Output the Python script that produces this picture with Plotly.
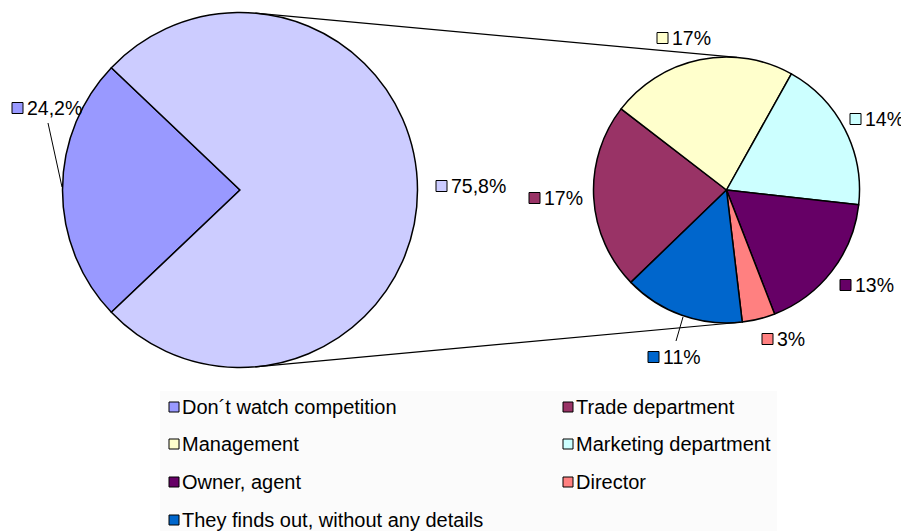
import math
import plotly.graph_objects as go

# ---------------- data ----------------
main_labels = ["Don´t watch competition", "Other"]
main_values = [24.2, 75.8]
main_colors = ["#9999FF", "#CCCCFF"]

sub_labels = ["Trade department", "Management", "Marketing department",
              "Owner, agent", "Director", "They finds out, without any details"]
sub_values = [17, 17, 14, 13, 3, 11]
sub_colors = ["#993366", "#FFFFCC", "#CCFFFF", "#660066", "#FF8080", "#0066CC"]

main_text = [f"{v:.1f}".replace(".", ",") + "%" for v in main_values]
sub_text = [f"{v}%" for v in sub_values]

# ---------------- layout geometry (window pixels) ----------------
WIN_W, WIN_H = 909, 531
OFF = 8                      # default page body margin
W, H = WIN_W - OFF, WIN_H - OFF
BIG_C, BIG_R = (240, 190), 177.5
SMALL_C, SMALL_R = (726.5, 190), 133
FONT = "Liberation Sans, Arial, sans-serif"
FS = 19.5


def px(x):
    return (x - OFF) / W


def py(y):
    return 1 - (y - OFF) / H


def dom(c, r):
    return dict(x=[px(c[0] - r), px(c[0] + r)], y=[py(c[1] + r), py(c[1] - r)])


def on_circle(c, r, deg):
    a = math.radians(deg)
    return (c[0] + r * math.sin(a), c[1] - r * math.cos(a))


# first slice of the main pie is centred at 9 o'clock
main_rot = 270 - main_values[0] / sum(main_values) * 360 / 2
sub_rot = 226

fig = go.Figure()
fig.add_trace(go.Pie(
    labels=main_labels, values=main_values, sort=False, direction="clockwise",
    rotation=main_rot, textinfo="none", showlegend=False,
    marker=dict(colors=main_colors, line=dict(color="black", width=1.5)),
    domain=dom(BIG_C, BIG_R)))
fig.add_trace(go.Pie(
    labels=sub_labels, values=sub_values, sort=False, direction="clockwise",
    rotation=sub_rot, textinfo="none", showlegend=False,
    marker=dict(colors=sub_colors, line=dict(color="black", width=1.5)),
    domain=dom(SMALL_C, SMALL_R)))

shapes = []
annotations = []

# legend background
shapes.append(dict(type="rect", xref="paper", yref="paper", layer="below",
                   x0=px(160), x1=px(777), y0=py(531), y1=py(391),
                   fillcolor="#FBFBFB", line=dict(width=0)))

# connector lines between the pies
for a_big, a_small in [(5, 4.5), (175, 174)]:
    p1 = on_circle(BIG_C, BIG_R, a_big)
    p2 = on_circle(SMALL_C, SMALL_R, a_small)
    shapes.append(dict(type="line", xref="paper", yref="paper",
                       x0=px(p1[0]), y0=py(p1[1]), x1=px(p2[0]), y1=py(p2[1]),
                       line=dict(color="black", width=1.2)))

# leader lines
for (x0, y0, x1, y1) in [(48, 123, 62, 187), (676, 341, 683, 317)]:
    shapes.append(dict(type="line", xref="paper", yref="paper",
                       x0=px(x0), y0=py(y0), x1=px(x1), y1=py(y1),
                       line=dict(color="black", width=1)))

# data labels: (square left x, centre y)
main_label_pos = [(12, 108), (436, 186)]
sub_label_pos = [(529, 198), (657, 38), (850, 119), (840, 285), (762, 339), (648, 357)]
SQ = 11


def add_label(x, y, color, text, sq=SQ, gap=3, size=FS):
    shapes.append(dict(type="rect", xref="paper", yref="paper",
                       x0=px(x), x1=px(x + sq), y0=py(y + sq / 2), y1=py(y - sq / 2),
                       fillcolor=color, line=dict(color="black", width=1)))
    annotations.append(dict(x=px(x + sq + gap), y=py(y), xref="paper", yref="paper",
                            xanchor="left", yanchor="middle", showarrow=False,
                            borderpad=0,
                            text=text, font=dict(family=FONT, size=size, color="black")))


for (x, y), c, t in zip(main_label_pos, main_colors, main_text):
    add_label(x, y, c, t)
for (x, y), c, t in zip(sub_label_pos, sub_colors, sub_text):
    add_label(x, y, c, t)

# legend (row-major, two columns)
legend_labels = [main_labels[0]] + sub_labels
legend_colors = [main_colors[0]] + sub_colors
col_x = [169, 563]
row_y = [407, 444, 482, 520]
for i, (lab, col) in enumerate(zip(legend_labels, legend_colors)):
    add_label(col_x[i % 2], row_y[i // 2], col, lab, sq=10, gap=2, size=20)

fig.update_layout(
    width=W, height=H, autosize=False,
    margin=dict(l=0, r=0, t=0, b=0),
    paper_bgcolor="white", plot_bgcolor="white",
    showlegend=False,
    shapes=shapes, annotations=annotations,
)

fig.write_html("out.html")
